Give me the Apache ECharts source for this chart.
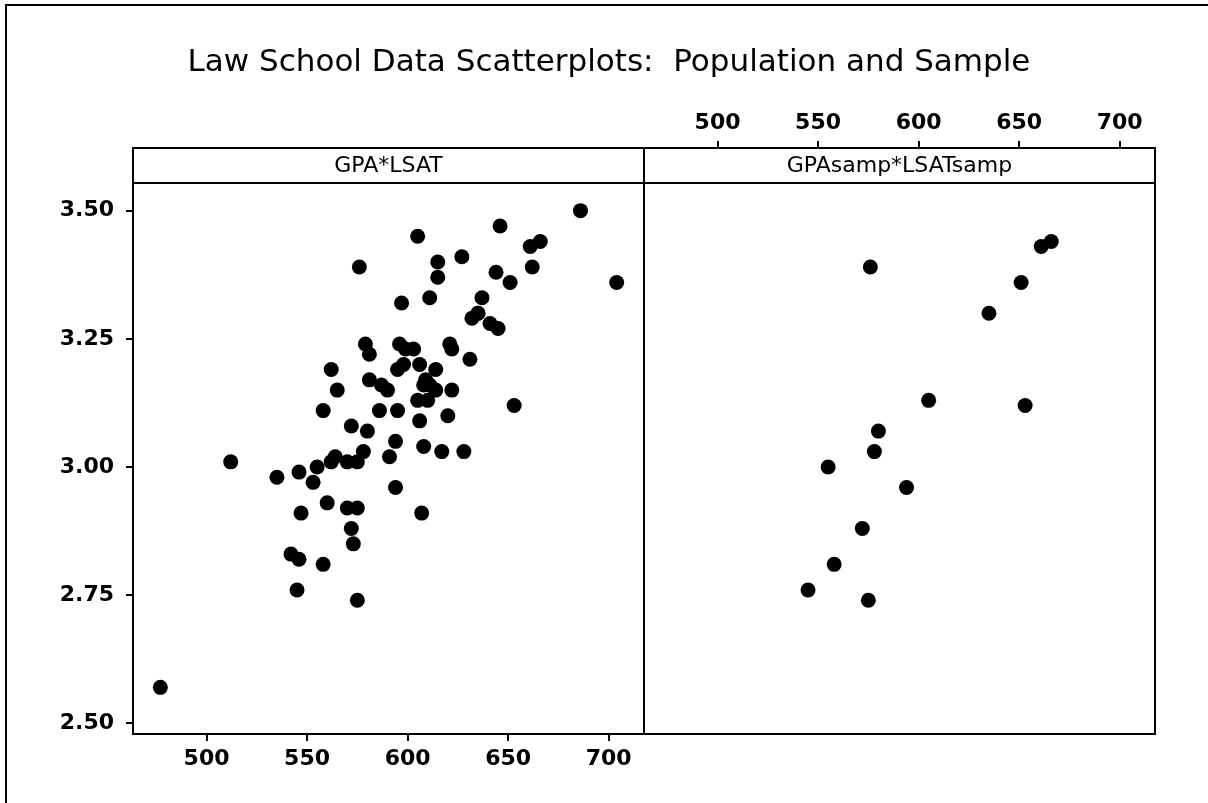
<!DOCTYPE html>
<html>
<head>
<meta charset="utf-8">
<title>Law School Data Scatterplots</title>
<script src="https://cdn.jsdelivr.net/npm/echarts@6/dist/echarts.min.js"></script>
<style>
  html, body { margin: 0; padding: 0; background: #fff; }
  #main { width: 1208px; height: 803px; }
</style>
</head>
<body>
<div id="main"></div>
<script>
// population: 82 law schools
var lsat = [622, 542, 579, 653, 606, 576, 620, 615, 553, 607, 558, 596, 635, 581, 661, 547, 599, 646, 622, 611,
            546, 614, 628, 575, 662, 627, 608, 632, 587, 581, 605, 704, 477, 591, 578, 572, 615, 606, 603, 535,
            595, 575, 573, 644, 545, 645, 651, 562, 609, 555, 586, 580, 594, 594, 560, 641, 512, 631, 597, 621,
            617, 637, 572, 610, 562, 635, 614, 546, 598, 666, 570, 570, 605, 565, 686, 608, 595, 590, 558, 611,
            564, 575];
var gpa = [3.23, 2.83, 3.24, 3.12, 3.09, 3.39, 3.10, 3.40, 2.97, 2.91, 3.11, 3.24, 3.30, 3.22, 3.43, 2.91, 3.23, 3.47, 3.15, 3.33,
           2.99, 3.19, 3.03, 3.01, 3.39, 3.41, 3.04, 3.29, 3.16, 3.17, 3.13, 3.36, 2.57, 3.02, 3.03, 2.88, 3.37, 3.20, 3.23, 2.98,
           3.11, 2.92, 2.85, 3.38, 2.76, 3.27, 3.36, 3.19, 3.17, 3.00, 3.11, 3.07, 2.96, 3.05, 2.93, 3.28, 3.01, 3.21, 3.32, 3.24,
           3.03, 3.33, 3.08, 3.13, 3.01, 3.30, 3.15, 2.82, 3.20, 3.44, 3.01, 2.92, 3.45, 3.15, 3.50, 3.16, 3.19, 3.15, 2.81, 3.16,
           3.02, 2.74];

// sample of 15 schools
var lsatSamp = [576, 635, 558, 578, 666, 580, 555, 661, 651, 605, 653, 575, 545, 572, 594];
var gpaSamp = [3.39, 3.30, 2.81, 3.03, 3.44, 3.07, 3.00, 3.43, 3.36, 3.13, 3.12, 2.74, 2.76, 2.88, 2.96];

var xTicks = [500, 550, 600, 650, 700];
var yTicks = [2.50, 2.75, 3.00, 3.25, 3.50];
var panelNames = ['GPA*LSAT', 'GPAsamp*LSATsamp'];

var myChart = echarts.init(document.getElementById('main'));

var tickFont = { color: '#000', fontFamily: 'DejaVu Sans', fontWeight: 'bold', fontSize: 22 };

function pairs(xs, ys) {
    return xs.map(function (x, i) { return [x, ys[i]]; });
}

function xAxisFor(idx, pos, offset) {
    return {
        gridIndex: idx, type: 'value', min: 463.4, max: 717.6,
        position: pos, offset: offset,
        axisLine: { show: false },
        axisTick: { show: true, customValues: xTicks, length: 7, lineStyle: { color: '#000', width: 2 } },
        axisLabel: Object.assign({ customValues: xTicks, margin: 14 }, tickFont),
        splitLine: { show: false }
    };
}

var option = {
    animation: false,
    backgroundColor: '#fff',
    grid: [
        { left: 133, top: 183, width: 511, height: 551, show: true, borderColor: '#000', borderWidth: 2 },
        { left: 644, top: 183, width: 511, height: 551, show: true, borderColor: '#000', borderWidth: 2 }
    ],
    xAxis: [
        xAxisFor(0, 'bottom', 0),
        xAxisFor(1, 'top', 35)
    ],
    yAxis: [
        {
            gridIndex: 0, type: 'value', min: 2.479, max: 3.554,
            axisLine: { show: false },
            axisTick: { show: true, customValues: yTicks, length: 7, lineStyle: { color: '#000', width: 2 } },
            axisLabel: Object.assign({
                customValues: yTicks, margin: 19,
                formatter: function (v) { return v.toFixed(2); }
            }, tickFont),
            splitLine: { show: false }
        },
        {
            gridIndex: 1, type: 'value', min: 2.479, max: 3.554,
            axisLine: { show: false }, axisTick: { show: false },
            axisLabel: { show: false }, splitLine: { show: false }
        }
    ],
    series: [
        {
            type: 'scatter', xAxisIndex: 0, yAxisIndex: 0,
            symbolSize: 15, itemStyle: { color: '#000', opacity: 1 },
            data: pairs(lsat, gpa)
        },
        {
            type: 'scatter', xAxisIndex: 1, yAxisIndex: 1,
            symbolSize: 15, itemStyle: { color: '#000', opacity: 1 },
            data: pairs(lsatSamp, gpaSamp)
        }
    ],
    graphic: [
        // outer frame
        { type: 'rect', shape: { x: 6, y: 5, width: 1215, height: 815 }, style: { fill: 'none', stroke: '#000', lineWidth: 2 } },
        // title
        {
            type: 'text', x: 609, y: 63,
            style: { text: 'Law School Data Scatterplots:  Population and Sample', font: '31px "DejaVu Sans"', fill: '#000',
                     textAlign: 'center', textVerticalAlign: 'middle' }
        },
        // panel strips
        { type: 'rect', shape: { x: 133, y: 148, width: 1022, height: 35 }, style: { fill: 'none', stroke: '#000', lineWidth: 2 } },
        { type: 'line', shape: { x1: 644, y1: 148, x2: 644, y2: 183 }, style: { stroke: '#000', lineWidth: 2 } },
        {
            type: 'text', x: 388.5, y: 166,
            style: { text: panelNames[0], font: '22px "DejaVu Sans"', fill: '#000', textAlign: 'center', textVerticalAlign: 'middle' }
        },
        {
            type: 'text', x: 899.5, y: 166,
            style: { text: panelNames[1], font: '22px "DejaVu Sans"', fill: '#000', textAlign: 'center', textVerticalAlign: 'middle' }
        }
    ]
};

myChart.setOption(option);
</script>
</body>
</html>
